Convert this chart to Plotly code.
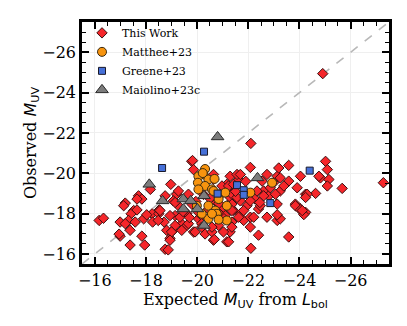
import plotly.graph_objects as go

# "This Work" (red diamonds)
this_work_x = [
    -16.17, -16.34, -17.19, -17.13, -17.71, -17.84, -17.65, -17.52, -17.42, -17.65,
    -16.99, -17.32, -17.58, -17.91, -17.19, -16.99, -16.95, -17.38, -17.84, -17.38,
    -17.95, -18.24, -18.26, -18.50, -18.17,
    -18.97, -18.03, -18.52, -18.71, -18.81, -18.94, -18.75, -19.20, -19.07, -19.33,
    -19.14, -19.40, -19.07, -19.60, -19.86, -19.79, -19.60, -19.40, -20.05,
    -18.55, -18.75, -19.27, -19.14, -19.66, -19.79, -18.94, -19.33, -19.14, -19.66,
    -19.92, -19.00, -18.94, -18.87, -20.18, -20.64, -21.16, -20.31, -18.48, -21.29,
    -21.36, -20.18, -20.97, -19.82, -19.86,
    -20.64, -21.16, -20.97, -21.42, -21.36, -20.77, -20.97, -21.36, -20.84, -20.58,
    -21.29, -20.05, -20.44,
    -20.64, -21.29, -21.23, -21.62, -21.69, -21.29, -21.03, -21.42, -21.69, -21.10,
    -21.36, -21.03, -20.58, -20.18, -22.08, -21.82,
    -21.56, -21.42, -21.36, -21.36, -21.95, -21.62, -22.08, -22.40, -22.27, -22.60,
    -22.80, -22.99, -23.25, -23.13,
    -22.10, -23.58, -22.08, -21.69, -23.19, -24.04, -22.73, -22.54, -23.25, -23.58,
    -23.39, -22.34, -22.60, -23.06, -21.56, -22.08, -22.47, -23.13, -23.84, -24.04,
    -24.24, -21.82, -22.21, -23.13, -23.25, -22.40, -23.58, -22.10, -22.73, -24.24,
    -21.36, -22.86, -23.91,
    -25.02, -25.09, -24.82, -25.15, -25.09, -25.67, -24.63, -24.30, -24.24, -23.84,
    -24.04, -24.17, -21.23, -20.67, -27.28, -23.13, -24.76, -24.11, -24.91,
    -19.45, -19.95, -20.50, -20.85, -21.05, -19.70, -20.25, -21.50, -21.90, -22.45,
]
this_work_y = [
    -17.66, -17.77, -18.52, -18.39, -18.88, -18.72, -18.72, -18.15, -17.99, -18.18,
    -17.58, -17.66, -17.58, -17.74, -17.50, -16.88, -16.98, -17.17, -16.88, -16.44,
    -16.44, -17.99, -17.58, -17.99, -19.20,
    -19.45, -17.94, -18.18, -17.58, -17.17, -16.77, -16.23, -18.96, -18.63, -18.31,
    -17.90, -17.50, -17.17, -18.00, -17.09, -20.59, -17.41, -17.17, -17.74,
    -18.15, -18.88, -19.12, -18.55, -18.96, -18.47, -17.90, -17.82, -17.41, -17.50,
    -17.09, -17.09, -16.68, -16.20, -17.90, -16.68, -16.60, -16.99, -17.66, -19.28,
    -18.23, -17.50, -18.15, -20.63, -20.18,
    -19.69, -19.45, -19.37, -18.88, -18.63, -18.55, -17.99, -17.58, -17.41, -17.09,
    -17.09, -18.06, -18.23,
    -19.94, -19.85, -19.37, -19.69, -18.63, -18.80, -18.31, -18.15, -17.99, -17.90,
    -17.33, -17.09, -17.33, -17.33, -17.33, -17.66,
    -19.94, -19.45, -18.96, -18.47, -18.39, -17.82, -17.82, -18.23, -18.72, -19.12,
    -18.88, -19.53, -19.12, -19.85,
    -21.48, -20.39, -20.29, -19.94, -20.26, -19.85, -19.94, -19.61, -19.77, -19.61,
    -19.37, -19.12, -18.88, -18.96, -18.80, -18.63, -18.39, -18.47, -18.47, -18.23,
    -18.06, -18.15, -17.82, -17.66, -17.74, -16.93, -16.84, -16.28, -17.82, -18.96,
    -18.15, -19.28, -19.28,
    -20.59, -20.18, -19.77, -19.69, -19.37, -19.25, -19.00, -18.96, -18.80, -18.39,
    -18.18, -17.95, -16.60, -16.72, -19.53, -17.94, -19.85, -18.15, -24.94,
    -18.10, -18.60, -18.75, -18.50, -17.75, -17.80, -18.95, -19.10, -19.60, -18.55,
]

# Matthee+23 (orange circles)
matthee_x = [-20.31, -20.25, -20.05, -20.44, -20.68, -20.03, -20.31, -20.58, -20.90, -21.10,
             -20.84, -20.44, -20.71, -21.16, -20.44, -20.77, -21.16, -20.84, -20.22, -20.64,
             -22.08, -22.93, -20.05, -19.99, -20.18, -20.58]
matthee_y = [-20.21, -19.94, -19.85, -19.69, -19.72, -19.53, -19.37, -19.20, -18.96, -19.04,
             -18.72, -18.39, -18.15, -18.39, -17.74, -17.99, -17.66, -17.70, -20.01, -19.12,
             -19.04, -19.53, -19.20, -18.39, -17.99, -17.99]

# Greene+23 (blue squares)
greene_x = [-18.63, -20.27, -21.56, -21.82, -21.82, -22.86, -24.40, -20.80]
greene_y = [-20.26, -21.07, -19.41, -19.16, -18.93, -18.52, -20.13, -18.99]

# Maiolino+23c (grey triangles)
maiolino_x = [-18.13, -18.65, -19.46, -19.75, -19.46, -20.01, -20.27, -20.27, -20.80, -22.36]
maiolino_y = [-19.45, -18.63, -18.72, -18.63, -18.23, -18.23, -18.88, -17.41, -21.80, -19.77]

lims = [-15.5, -27.5]
serif = "DejaVu Serif"

fig = go.Figure()
fig.add_trace(go.Scatter(x=lims, y=lims, mode="lines", showlegend=False,
                         line=dict(color="#b8b8b8", width=1.6, dash="dash")))
fig.add_trace(go.Scatter(x=this_work_x, y=this_work_y, mode="markers", name="This Work",
                         marker=dict(symbol="diamond", size=8, color="#f5262a",
                                     line=dict(color="#3a1010", width=1))))
fig.add_trace(go.Scatter(x=matthee_x, y=matthee_y, mode="markers", name="Matthee+23",
                         marker=dict(symbol="circle", size=9, color="#f7940f",
                                     line=dict(color="#3a2a10", width=1))))
fig.add_trace(go.Scatter(x=greene_x, y=greene_y, mode="markers", name="Greene+23",
                         marker=dict(symbol="square", size=7, color="#4670d8",
                                     line=dict(color="#1a1a2a", width=1))))
fig.add_trace(go.Scatter(x=maiolino_x, y=maiolino_y, mode="markers", name="Maiolino+23c",
                         marker=dict(symbol="triangle-up", size=11, color="#7c7c7c",
                                     line=dict(color="#2a2a2a", width=1))))

axis_common = dict(
    range=lims, dtick=2, showgrid=True, gridcolor="#efefef", gridwidth=1,
    zeroline=False, showline=True, linecolor="black", linewidth=2.5, mirror="allticks",
    ticks="inside", ticklen=7, tickwidth=1.5, tickcolor="black",
    minor=dict(ticks="inside", ticklen=4, tickwidth=1, tickcolor="black", dtick=0.5, showgrid=False),
    tickfont=dict(family=serif, size=16, color="black"),
)
fig.update_xaxes(**axis_common, title=dict(
    text="Expected <span style='font-family:DejaVu Sans'><i>M</i><sub>UV</sub></span> from "
         "<span style='font-family:DejaVu Sans'><i>L</i><sub>bol</sub></span>",
    font=dict(family=serif, size=16, color="black"), standoff=4))
fig.update_yaxes(**axis_common, title=dict(
    text="Observed <span style='font-family:DejaVu Sans'><i>M</i><sub>UV</sub></span>",
    font=dict(family=serif, size=16, color="black"), standoff=2))

# page body adds an 8px offset, so the figure is sized to fit the window
fig.update_layout(
    width=399, height=318,
    margin=dict(l=74, r=18, t=10, b=62),
    plot_bgcolor="white", paper_bgcolor="white",
    legend=dict(x=0.0, y=1.015, xanchor="left", yanchor="top", bgcolor="rgba(0,0,0,0)",
                font=dict(family=serif, size=11, color="black"), tracegroupgap=0,
                itemwidth=30),
)

fig.write_html("out.html")
